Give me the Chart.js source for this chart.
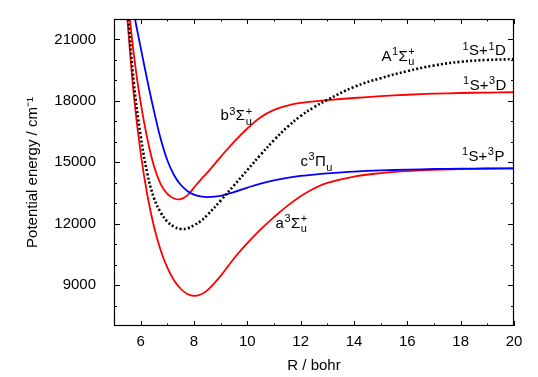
<!DOCTYPE html>
<html>
<head>
<meta charset="utf-8">
<script src="https://cdn.jsdelivr.net/npm/chart.js@4.4.1/dist/chart.umd.min.js"></script>
<style>
  html, body { margin: 0; padding: 0; background: #fff; }
  canvas { display: block; }
</style>
</head>
<body>
<canvas id="pec" width="538" height="377"></canvas>
<script>
// internuclear distance grid (bohr)
const R = [5.5, 5.75, 6, 6.25, 6.5, 6.75, 7, 7.25, 7.5, 7.75, 8, 8.25, 8.5, 9, 9.5,
           10, 10.5, 11, 11.5, 12, 12.5, 13, 14, 15, 16, 17, 18, 19, 20];

// potential energy curves (cm^-1)
const a3Su = [22000, 18200, 15450, 13400, 11850, 10700, 9850, 9240, 8820, 8560, 8470, 8540, 8740, 9450, 10300,
              11045, 11720, 12320, 12870, 13345, 13720, 13990, 14300, 14470, 14570, 14630, 14665, 14685, 14700];
const b3Su = [23200, 20200, 17900, 16150, 14800, 13930, 13460, 13230, 13195, 13380, 13760, 14140, 14490, 15260, 16000,
              16650, 17200, 17560, 17770, 17900, 17980, 18040, 18140, 18230, 18300, 18350, 18385, 18405, 18420];
const c3Pu = [24000, 22250, 20600, 19000, 17500, 16150, 15100, 14380, 13900, 13600, 13420, 13330, 13300, 13360, 13540,
              13760, 13960, 14120, 14240, 14330, 14400, 14455, 14540, 14600, 14640, 14670, 14685, 14695, 14700];
const A1Su = [22600, 18800, 16300, 14450, 13250, 12550, 12100, 11850, 11740, 11770, 11920, 12130, 12420, 13130, 13870,
              14620, 15370, 16080, 16720, 17260, 17690, 18050, 18680, 19110, 19450, 19730, 19910, 20000, 20040];

// axis ticks
const xTicks = [6, 8, 10, 12, 14, 16, 18, 20];
const yTicks = [9000, 12000, 15000, 18000, 21000];
const xMinor = [5, 7, 9, 11, 13, 15, 17, 19];
const yMinor = [8000, 10000, 11000, 13000, 14000, 16000, 17000, 19000, 20000, 22000];

// state / asymptote labels: [R, E, pieces]
const stateLabels = [
  [15.03, 19967, ['A', {sup: '1'}, 'Σ', {sup: '+', sub: 'u'}]],
  [18.05, 20220, [{sup: '1'}, 'S+', {sup: '1'}, 'D']],
  [18.07, 18532, [{sup: '1'}, 'S+', {sup: '3'}, 'D']],
  [18.03, 15054, [{sup: '1'}, 'S+', {sup: '3'}, 'P']],
  [8.99, 17049, ['b', {sup: '3'}, 'Σ', {sup: '+', sub: 'u'}]],
  [11.99, 14811, ['c', {sup: '3'}, 'Π', {sub: 'u'}]],
  [11.06, 11805, ['a', {sup: '3'}, 'Σ', {sup: '+', sub: 'u'}]]
];

const FONT = '"Liberation Sans", Arial, Helvetica, sans-serif';
const pts = ys => R.map((r, i) => ({x: r, y: ys[i]}));

function richText(ctx, x, y, pieces) {
  let cx = x;
  ctx.textBaseline = 'alphabetic';
  ctx.textAlign = 'left';
  for (const p of pieces) {
    if (typeof p === 'string') {
      ctx.font = '15px ' + FONT;
      ctx.fillText(p, cx, y);
      cx += ctx.measureText(p).width;
    } else {
      ctx.font = '11px ' + FONT;
      let w = 0;
      if (p.sup) { ctx.fillText(p.sup, cx + 0.5, y - 5.7); w = Math.max(w, ctx.measureText(p.sup).width); }
      if (p.sub) { ctx.fillText(p.sub, cx + 0.5, y + 4.5); w = Math.max(w, ctx.measureText(p.sub).width); }
      cx += w + 1;
    }
  }
}

const decor = {
  id: 'decor',
  afterDatasetsDraw(chart) {
    const {ctx, chartArea: {left, right, top, bottom}, scales: {x, y}} = chart;
    ctx.save();
    ctx.strokeStyle = '#000';
    ctx.lineWidth = 1;
    ctx.beginPath();
    const vt = (v, len) => {
      const px = Math.round(x.getPixelForValue(v)) + 0.5;
      ctx.moveTo(px, bottom); ctx.lineTo(px, bottom - len);
      ctx.moveTo(px, top); ctx.lineTo(px, top + len);
    };
    const ht = (v, len) => {
      const py = Math.round(y.getPixelForValue(v)) + 0.5;
      ctx.moveTo(left, py); ctx.lineTo(left + len, py);
      ctx.moveTo(right, py); ctx.lineTo(right - len, py);
    };
    xTicks.forEach(v => vt(v, 5));
    xMinor.forEach(v => vt(v, 2.5));
    yTicks.forEach(v => ht(v, 6));
    yMinor.forEach(v => ht(v, 3));
    ctx.stroke();
    ctx.lineWidth = 1.2;
    ctx.strokeRect(left + 0.5, top + 0.5, right - left - 1, bottom - top - 1);
    ctx.fillStyle = '#000';
    stateLabels.forEach(([r, e, pieces]) => {
      richText(ctx, x.getPixelForValue(r), y.getPixelForValue(e), pieces);
    });
    ctx.restore();
  }
};

const line = (label, ys, color, extra) => Object.assign({
  label, data: pts(ys), showLine: true, borderColor: color, borderWidth: 1.8,
  pointRadius: 0, tension: 0.4, fill: false
}, extra || {});

new Chart(document.getElementById('pec'), {
  type: 'scatter',
  data: {
    datasets: [
      line('A1Σu+', A1Su, '#000', {borderDash: [2, 2.2], borderWidth: 2.6}),   // drawn on top
      line('c3Πu', c3Pu, '#0000ff'),
      line('b3Σu+', b3Su, '#ff0000'),
      line('a3Σu+', a3Su, '#ff0000')
    ]
  },
  options: {
    responsive: false,
    animation: false,
    devicePixelRatio: 1,
    layout: { padding: { top: 19, right: 24, left: 0, bottom: 0 } },
    plugins: { legend: { display: false }, tooltip: { enabled: false } },
    scales: {
      x: {
        type: 'linear', min: 5, max: 20,
        grid: { display: false }, border: { display: false },
        afterBuildTicks: s => { s.ticks = xTicks.map(v => ({value: v})); },
        afterFit: s => { s.height = 51; },
        ticks: { color: '#000', padding: -1, maxRotation: 0, callback: v => String(v),
                 font: { family: FONT, size: 15 } },
        title: { display: true, text: 'R / bohr', color: '#000', padding: { top: 0, bottom: 2 },
                 font: { family: FONT, size: 15 } }
      },
      y: {
        type: 'linear', min: 7000, max: 22000,
        grid: { display: false }, border: { display: false },
        afterBuildTicks: s => { s.ticks = yTicks.map(v => ({value: v})); },
        afterFit: s => { s.width = 114; },
        ticks: { color: '#000', padding: 10, callback: v => String(v),
                 font: { family: FONT, size: 15 } },
        title: { display: true, text: 'Potential energy / cm⁻¹', color: '#000', padding: { top: 24, bottom: 0 },
                 font: { family: FONT, size: 15 } }
      }
    }
  },
  plugins: [decor]
});
</script>
</body>
</html>
